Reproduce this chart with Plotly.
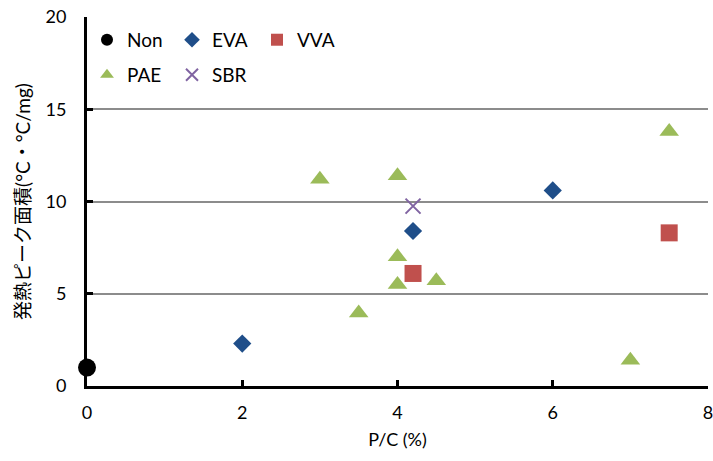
import plotly.graph_objects as go

non_x = [0]
non_y = [1.0]
eva_x = [2, 4.2, 6]
eva_y = [2.3, 8.4, 10.6]
vva_x = [4.2, 7.5]
vva_y = [6.1, 8.3]
pae_x = [3, 4, 7.5, 4, 4, 4.5, 3.5, 7]
pae_y = [11.2, 11.4, 13.8, 7.0, 5.5, 5.7, 3.95, 1.4]
sbr_x = [4.2]
sbr_y = [9.75]

x_ticks = [0, 2, 4, 6, 8]
y_ticks = [0, 5, 10, 15, 20]

font = "Lato, 'Noto Sans CJK JP', sans-serif"

fig = go.Figure()
fig.add_trace(go.Scatter(x=non_x, y=non_y, mode="markers", name="Non",
                         marker=dict(symbol="circle", size=18, color="#000000"),
                         legend="legend", cliponaxis=False))
fig.add_trace(go.Scatter(x=eva_x, y=eva_y, mode="markers", name="EVA",
                         marker=dict(symbol="diamond", size=14, color="#1F4E89"),
                         legend="legend"))
fig.add_trace(go.Scatter(x=vva_x, y=vva_y, mode="markers", name="VVA",
                         marker=dict(symbol="square", size=17, color="#C0504D"),
                         legend="legend"))
fig.add_trace(go.Scatter(x=pae_x, y=pae_y, mode="markers", name="PAE",
                         marker=dict(symbol="triangle-up", size=17, color="#9BBB59"),
                         legend="legend2"))
fig.add_trace(go.Scatter(x=sbr_x, y=sbr_y, mode="markers", name="SBR",
                         marker=dict(symbol="x-thin", size=15, color="#8064A2",
                                     line=dict(width=2, color="#8064A2")),
                         legend="legend2"))

legend_common = dict(orientation="h", bgcolor="rgba(0,0,0,0)",
                     font=dict(family=font, size=19, color="#000000"),
                     itemsizing="constant", entrywidth=40, entrywidthmode="pixels",
                     itemwidth=30, tracegroupgap=0, xanchor="left", yanchor="middle")

fig.update_layout(
    width=713, height=461,
    margin=dict(l=87, r=5, t=17, b=75),
    plot_bgcolor="white", paper_bgcolor="white",
    font=dict(family=font, size=18, color="#000000"),
    legend=dict(x=0.0, y=0.938, **legend_common),
    legend2=dict(x=0.0, y=0.843, **legend_common),
    xaxis=dict(range=[0, 8], tickvals=x_ticks, showgrid=False, automargin=False,
               showline=True, linecolor="#000000", linewidth=3,
               ticks="inside", ticklen=6, tickwidth=3, tickcolor="#000000",
               ticklabeloverflow="allow",
               title=dict(text="P/C (%)", font=dict(size=18), standoff=12),
               zeroline=False, mirror=False, ticklabelstandoff=8),
    yaxis=dict(range=[0, 20], tickvals=y_ticks, showgrid=True, automargin=False,
               gridcolor="#8C8C8C", gridwidth=2,
               showline=True, linecolor="#000000", linewidth=3,
               ticks="inside", ticklen=6, tickwidth=3, tickcolor="#000000",
               ticklabeloverflow="allow",
               title=dict(text="発熱ピーク面積(°C・°C/mg)", font=dict(size=19), standoff=10),
               zeroline=False, ticklabelstandoff=14),
)

fig.write_html("out.html", config={"displayModeBar": False},
               post_script="document.body.style.margin='0';")
